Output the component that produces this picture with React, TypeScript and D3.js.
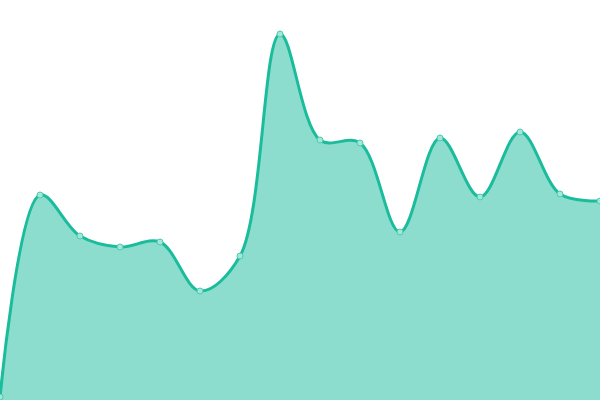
import React, { useEffect, useRef } from "react";
import * as d3 from "d3";

// one sample every step along x
const steps = [0, 1, 2, 3, 4, 5, 6, 7, 8, 9, 10, 11, 12, 13, 14, 15];
const values = [3, 205, 164, 153, 158, 109, 144, 366, 260, 257, 168, 262, 203, 268, 206, 199];

const App = () => {
  const svgRef = useRef<SVGSVGElement>(null);

  useEffect(() => {
    if (!svgRef.current) return;

    const width = 600;
    const height = 400;

    d3.select(svgRef.current).selectAll("*").remove();

    const svg = d3.select(svgRef.current)
      .attr("width", width)
      .attr("height", height)
      .attr("viewBox", [0, 0, width, height]);

    const x = d3.scaleLinear()
      .domain([0, steps.length - 1])
      .range([0, width]);

    const y = d3.scaleLinear()
      .domain([0, 400])
      .range([height, 0]);

    const data = steps.map((s, i) => ({ s, v: values[i] }));

    const curve = d3.curveCatmullRom.alpha(0.5);

    const area = d3.area<{ s: number; v: number }>()
      .x(d => x(d.s))
      .y0(y(0))
      .y1(d => y(d.v))
      .curve(curve);

    const line = d3.line<{ s: number; v: number }>()
      .x(d => x(d.s))
      .y(d => y(d.v))
      .curve(curve);

    svg.append("path")
      .datum(data)
      .attr("fill", "#1abc9c")
      .attr("fill-opacity", 0.5)
      .attr("d", area);

    svg.append("path")
      .datum(data)
      .attr("fill", "none")
      .attr("stroke", "#1abc9c")
      .attr("stroke-width", 3)
      .attr("d", line);

    // point markers
    svg.append("g")
      .selectAll("circle")
      .data(data)
      .join("circle")
      .attr("cx", d => x(d.s))
      .attr("cy", d => y(d.v))
      .attr("r", 3)
      .attr("fill", "#a3e7d9")
      .attr("stroke", "#4ccbb0")
      .attr("stroke-width", 1);
  }, []);

  return (
    <svg ref={svgRef} style={{ position: "absolute", left: 0, top: 0 }}></svg>
  );
};

export default App;
